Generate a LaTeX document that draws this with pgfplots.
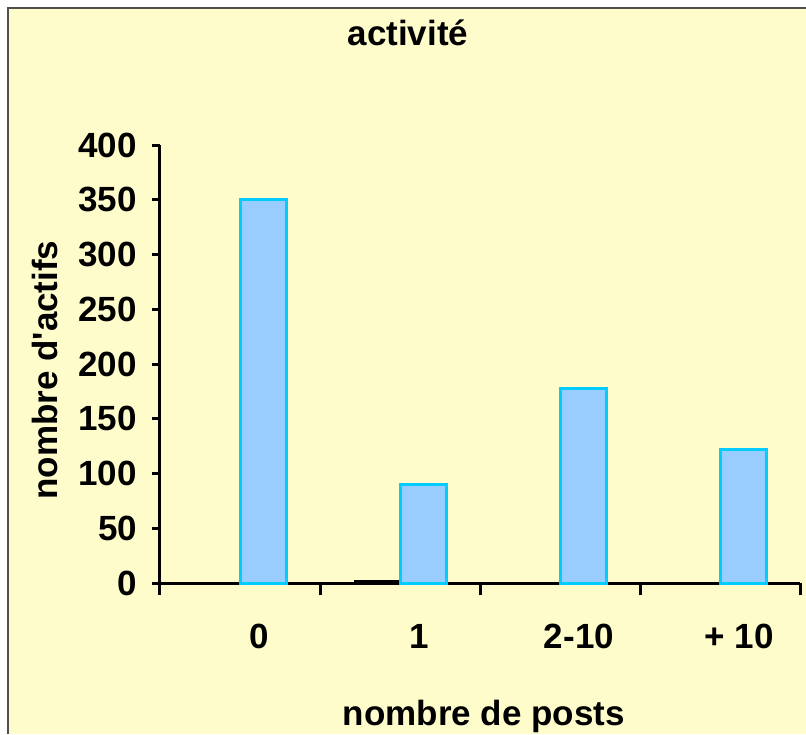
\documentclass[border=0pt]{standalone}
\usepackage{pgfplots}
\pgfplotsset{compat=1.18}
\usepackage{fontspec}
\setmainfont{Liberation Sans}
\definecolor{chartbg}{RGB}{255,252,204}
\definecolor{barfill}{RGB}{153,204,255}
\definecolor{baredge}{RGB}{0,204,255}
\definecolor{framegray}{RGB}{80,80,80}

\begin{document}
\begin{tikzpicture}
  % background panel (1px = 0.5pt, axis origin at px (160,583))
  \fill[white] (-80pt,-75.5pt) rectangle (323pt,291.5pt);
  \fill[chartbg] (-76pt,-75.5pt) rectangle (323pt,287.5pt);
  \draw[framegray, line width=1pt] (-76pt,-75.5pt) -- (-76pt,287.5pt) -- (323pt,287.5pt);
  \begin{axis}[
    scale only axis,
    width=320pt, height=219pt,
    ybar=0pt, bar width=23pt,
    xmin=-0.5, xmax=3.5,
    ymin=0, ymax=400,
    ytick={0,50,...,400},
    xtick={0,1,2,3},
    xticklabels={0,1,2-10,+ 10},
    x tick style={draw=none},
    extra x ticks={-0.5,0.5,1.5,2.5,3.5},
    extra x tick labels={},
    extra x tick style={major tick length=6pt, x tick style={draw=black}},
    axis x line*=bottom, axis y line*=left,
    axis line style={line width=1.5pt, black},
    tick style={line width=1.5pt, black},
    tick align=outside,
    major tick length=4pt,
    font=\fontsize{17.5}{21}\selectfont\bfseries,
    /pgf/number format/assume math mode=true,
    xticklabel style={xshift=9.5pt, yshift=-13pt},
    yticklabel style={xshift=-4pt},
    title={activité},
    title style={at={(0.3875,1.2215)}, anchor=base, yshift=-5pt},
    xlabel={nombre de posts},
    xlabel style={at={(0.506,-0.308)}, anchor=base, yshift=-4pt},
    ylabel={nombre d\textquotesingle actifs},
    ylabel style={at={(-0.179,0.486)}, anchor=center, rotate=0},
    clip=false,
  ]
    \addplot[fill=black, draw=black, line width=0.5pt] coordinates {(0,0) (1,2) (2,0) (3,0)};
    \addplot[fill=barfill, draw=baredge, line width=1.5pt] coordinates {(0,350) (1,90) (2,178) (3,122)};
  \end{axis}
  \pgfresetboundingbox
  \useasboundingbox (-80pt,-75.5pt) rectangle (323pt,291.5pt);
\end{tikzpicture}
\end{document}
